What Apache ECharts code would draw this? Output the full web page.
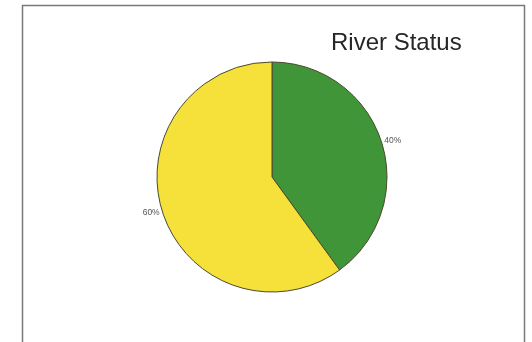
<!DOCTYPE html>
<html>
<head>
<meta charset="utf-8">
<script src="https://cdn.jsdelivr.net/npm/echarts@6/dist/echarts.min.js"></script>
<style>
html,body{margin:0;padding:0;background:#fff;}
#chart{width:532px;height:342px;}
</style>
</head>
<body>
<div id="chart"></div>
<script>
var titleText = 'River Status';
var categories = ['Green', 'Yellow'];
var values = [40, 60];
var colors = ['#3f9538', '#f6e13a'];

var chart = echarts.init(document.getElementById('chart'), null, {renderer: 'canvas'});
chart.setOption({
  backgroundColor: '#ffffff',
  animation: false,
  title: {
    text: titleText,
    left: 326,
    top: 26,
    textStyle: {fontFamily: 'Liberation Sans, Arial, sans-serif', fontSize: 24, fontWeight: 'normal', color: '#262626'}
  },
  graphic: [{
    type: 'rect',
    shape: {x: 22.5, y: 5.5, width: 502, height: 360},
    style: {fill: 'none', stroke: '#7a7a7a', lineWidth: 1.5},
    z: -1
  }],
  series: [{
    type: 'pie',
    center: [272, 177],
    radius: 115,
    startAngle: 90,
    clockwise: true,
    data: categories.map(function (c, i) {
      return {name: c, value: values[i], itemStyle: {color: colors[i]}};
    }),
    itemStyle: {borderColor: '#4a4a30', borderWidth: 1},
    label: {
      show: true,
      position: 'outside',
      formatter: '{c}%',
      fontFamily: 'Liberation Sans, Arial, sans-serif',
      fontSize: 8.5,
      color: '#555',
      distanceToLabelLine: 2
    },
    labelLine: {show: false, length: 1, length2: 0},
    emphasis: {disabled: true}
  }]
});
</script>
</body>
</html>
